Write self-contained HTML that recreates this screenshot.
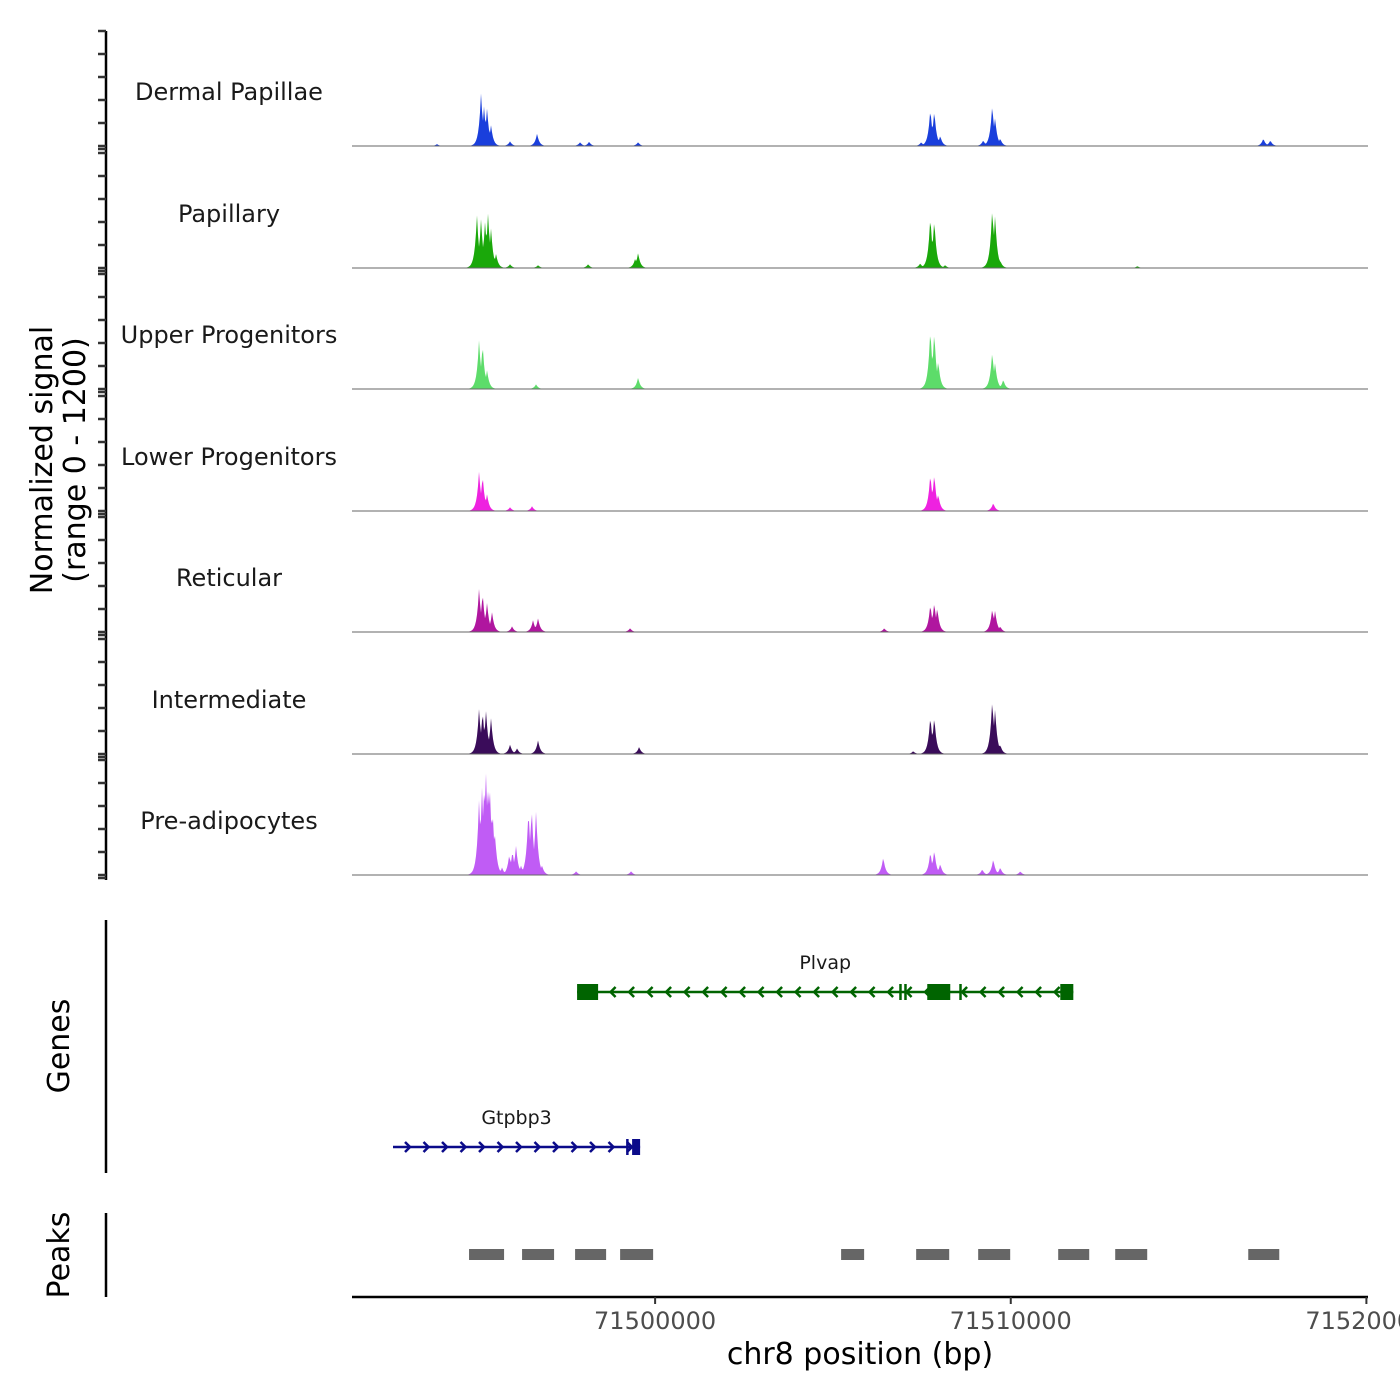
<!DOCTYPE html>
<html><head><meta charset="utf-8"><style>
html,body{margin:0;padding:0;background:#fff;width:1400px;height:1400px;overflow:hidden}
svg{display:block;font-family:"DejaVu Sans","Liberation Sans",sans-serif}
</style></head><body>
<svg id="chart" width="1400" height="1400" viewBox="0 0 1400 1400" xmlns="http://www.w3.org/2000/svg">
<g id="tracks"></g>
<g id="genes"></g>
<g id="peaks"></g>
<g id="axes"></g>
</svg>
<script>
const trackNames = ["Dermal Papillae","Papillary","Upper Progenitors","Lower Progenitors","Reticular","Intermediate","Pre-adipocytes"];
const trackColors = ["#1a3fdc","#1aa80a","#5ddc6a","#ee22e0","#b0169f","#3a0c5a","#c05cf5"];
// peaks: [bp position, signal value (0-1200)]
const peaksDermal = [[71493868,20],[71495106,560],[71495190,420],[71495275,400],[71495387,220],[71495922,50],[71496681,130],[71497891,40],[71498144,45],[71499522,40],[71507483,40],[71507740,400],[71507850,380],[71508017,110],[71509227,60],[71509480,440],[71509560,300],[71509705,80],[71517103,80],[71517300,60]];
const peaksPapillary = [[71494990,560],[71495106,520],[71495220,500],[71495303,580],[71495387,420],[71495528,150],[71495922,40],[71496709,30],[71498116,40],[71499440,100],[71499522,160],[71507455,50],[71507740,560],[71507850,520],[71508155,30],[71509480,640],[71509560,560],[71509705,80],[71513560,20]];
const peaksUpper = [[71495050,520],[71495150,480],[71495275,200],[71496653,50],[71499522,120],[71507740,650],[71507850,620],[71507961,300],[71509480,400],[71509560,280],[71509790,100]];
const peaksLower = [[71495050,420],[71495150,380],[71495275,180],[71495922,40],[71496540,50],[71507740,400],[71507850,400],[71507961,180],[71509508,85]];
const peaksReticular = [[71495050,460],[71495150,420],[71495275,310],[71495415,210],[71495978,60],[71496568,125],[71496709,145],[71499297,40],[71506443,40],[71507740,300],[71507850,320],[71507933,260],[71509480,250],[71509560,230],[71509705,60]];
const peaksIntermediate = [[71495050,480],[71495150,460],[71495247,460],[71495387,380],[71495922,100],[71496119,60],[71496709,145],[71499550,75],[71507258,30],[71507740,410],[71507850,400],[71509480,580],[71509560,480],[71509705,100]];
const peaksPreadipo = [[71495050,800],[71495134,930],[71495200,1000],[71495247,1090],[71495310,1000],[71495359,880],[71495430,700],[71495500,420],[71495697,80],[71495900,220],[71495990,260],[71496090,310],[71496231,100],[71496440,700],[71496530,720],[71496653,680],[71496822,100],[71497779,40],[71499325,40],[71506415,190],[71507740,250],[71507850,270],[71508017,120],[71509199,60],[71509508,170],[71509705,80],[71510268,40]];
const trackPeaks = [peaksDermal,peaksPapillary,peaksUpper,peaksLower,peaksReticular,peaksIntermediate,peaksPreadipo];
const peakRegions = [[71494768,71495753],[71496259,71497159],[71497750,71498622],[71499016,71499944],[71505230,71505877],[71507340,71508269],[71509084,71509984],[71511334,71512206],[71512937,71513837],[71516678,71517550]];
const xTicks = [71500000,71510000,71520000];
const xTickLabels = ["71500000","71510000","71520000"];
const genesData = [
 {name:"Plvap",start:71497806,end:71511759,strand:-1,row:0,exons:[[71497806,71498397],[71507652,71508299],[71511393,71511759]],marks:[71506892,71507033,71508580]},
 {name:"Gtpbp3",start:71492630,end:71499578,strand:1,row:1,exons:[[71499353,71499578]],marks:[71499213]}
];
const X0=352,X1=1368,BP0=71491477,BP1=71520045;
const xs=bp=>X0+(bp-BP0)/(BP1-BP0)*(X1-X0);
const baselines=[146,268,389,511,632,754,875];
const ys=v=>v*0.0965;
const NS="http://www.w3.org/2000/svg";
function mk(tag,attrs,parent){const e=document.createElementNS(NS,tag);for(const k in attrs)e.setAttribute(k,attrs[k]);parent.appendChild(e);return e;}
const gT=document.getElementById('tracks');
trackPeaks.forEach((pk,i)=>{
  const b=baselines[i];
  const g=mk('g',{},gT);
  
  
  let d='M'+X0+','+b;
  for(let x=X0;x<=X1;x+=1){
    let v=0;
    pk.forEach(p=>{const dx=x-xs(p[0]);const s=2.2;v=Math.max(v,p[1]*Math.exp(-Math.abs(dx)/s));});
    d+=' L'+x+','+(b-ys(v)).toFixed(2);
  }
  d+=' L'+X1+','+b+' Z';
  const a=mk('path',{d:d,fill:trackColors[i],stroke:'none'},g);
  
  
  const l=mk('line',{x1:X0,x2:X1,y1:b,y2:b,stroke:'#666','stroke-width':1},g);
  
  
  const t=mk('text',{x:229,y:b-46,'text-anchor':'middle','font-size':24,fill:'#1a1a1a'},g);
  t.textContent=trackNames[i];
  
  
});
const gG=document.getElementById('genes');
genesData.forEach(gn=>{
  const y=gn.row===0?992:1147;const col=gn.row===0?'#006400':'#0b0b8a';
  const g=mk('g',{},gG);
  
  
  const xa=xs(gn.start),xb=xs(gn.end);
  mk('line',{x1:xa,x2:xb,y1:y,y2:y,stroke:col,'stroke-width':2.5},g);
  for(let x=xa+16;x<xb-8;x+=18.5){
    const dd=gn.strand<0?`M${x+4},${y-5} L${x-1},${y} L${x+4},${y+5}`:`M${x-4},${y-5} L${x+1},${y} L${x-4},${y+5}`;
    mk('path',{d:dd,stroke:col,'stroke-width':2.5,fill:'none'},g);
  }
  gn.exons.forEach(e=>{const r=mk('rect',{x:xs(e[0]),y:y-8,width:xs(e[1])-xs(e[0]),height:16,fill:col},g);});
  gn.marks.forEach(m=>mk('rect',{x:xs(m)-1,y:y-8,width:2.5,height:16,fill:col},g));
  const t=mk('text',{x:(xa+xb)/2,y:y-23,'text-anchor':'middle','font-size':19,fill:'#1a1a1a'},g);
  t.textContent=gn.name;
  
  
});
const gP=document.getElementById('peaks');
peakRegions.forEach(r=>{
  const e=mk('rect',{x:xs(r[0]),y:1249,width:xs(r[1])-xs(r[0]),height:11,fill:'#666'},gP);
  
  
});
const gA=document.getElementById('axes');
let ax=mk('line',{x1:106,x2:106,y1:31,y2:880,stroke:'#000','stroke-width':2.5},gA);

baselines.forEach((b,i)=>{
  for(let k=0;k<6;k++){const y=b-k*23;mk('line',{x1:98,x2:106,y1:y,y2:y,stroke:'#333','stroke-width':2.5},gA);}
  if(i<6) mk('line',{x1:98,x2:106,y1:b+3,y2:b+3,stroke:'#333','stroke-width':2.5},gA);
});
mk('line',{x1:98,x2:106,y1:878,y2:878,stroke:'#333','stroke-width':2.5},gA);
let gl=mk('line',{x1:106,x2:106,y1:920,y2:1173,stroke:'#000','stroke-width':2.5},gA);

let pl=mk('line',{x1:106,x2:106,y1:1213,y2:1297,stroke:'#000','stroke-width':2.5},gA);

let xl=mk('line',{x1:X0,x2:X1,y1:1297,y2:1297,stroke:'#000','stroke-width':2.5},gA);

xTicks.forEach((t,i)=>{
  const x=xs(t);
  mk('line',{x1:x,x2:x,y1:1297,y2:1304,stroke:'#333','stroke-width':2},gA);
  const tx=mk('text',{x:x,y:1329,'text-anchor':'middle','font-size':24,fill:'#4d4d4d'},gA);
  tx.textContent=xTickLabels[i];
  
  
});
function lab(txt,x,y,rot,size,name){
  const t=mk('text',{x:x,y:y,'text-anchor':'middle','font-size':size,fill:'#000',transform:rot?`rotate(-90 ${x} ${y})`:''},gA);
  t.textContent=txt;
  
  
}
lab("chr8 position (bp)",860,1364,false,30,'x-axis-title');
lab("Normalized signal",52,460,true,30,'y-axis-title');
lab("(range 0 - 1200)",85,460,true,30,'y-axis-subtitle');
lab("Genes",69,1046,true,30,'genes-axis-title');
lab("Peaks",69,1255,true,30,'peaks-axis-title');
</script>
</body></html>
